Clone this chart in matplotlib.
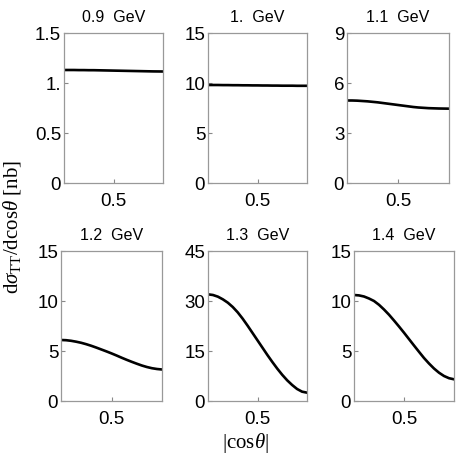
import numpy as np
import matplotlib
matplotlib.use('Agg')
import matplotlib.pyplot as plt

plt.rcParams['font.family'] = ['Liberation Sans', 'DejaVu Sans']
plt.rcParams['mathtext.fontset'] = 'custom'
plt.rcParams['mathtext.rm'] = 'Liberation Serif'
plt.rcParams['mathtext.it'] = 'Liberation Serif:italic'

# |cos theta| sample points
x = [0.0, 0.05, 0.1, 0.15, 0.2, 0.25, 0.3, 0.35, 0.4, 0.45, 0.5,
     0.55, 0.6, 0.65, 0.7, 0.75, 0.8, 0.85, 0.9, 0.95, 1.0]

titles = ['0.9  GeV', '1.  GeV', '1.1  GeV', '1.2  GeV', '1.3  GeV', '1.4  GeV']

y09 = [1.130, 1.130, 1.130, 1.129, 1.129, 1.128, 1.128, 1.127, 1.126, 1.125, 1.124,
       1.123, 1.122, 1.121, 1.120, 1.119, 1.118, 1.117, 1.116, 1.1155, 1.115]
y10 = [9.80, 9.80, 9.80, 9.79, 9.79, 9.78, 9.78, 9.77, 9.77, 9.76, 9.76,
       9.75, 9.75, 9.74, 9.74, 9.73, 9.73, 9.73, 9.72, 9.72, 9.72]
y11 = [4.95, 4.95, 4.94, 4.92, 4.90, 4.87, 4.84, 4.80, 4.76, 4.72, 4.68,
       4.64, 4.60, 4.56, 4.53, 4.51, 4.49, 4.48, 4.47, 4.465, 4.46]
y12 = [6.10, 6.08, 6.02, 5.93, 5.82, 5.68, 5.52, 5.34, 5.15, 4.96, 4.76,
       4.55, 4.33, 4.12, 3.92, 3.73, 3.55, 3.40, 3.28, 3.20, 3.15]
y13 = [32.0, 31.8, 31.3, 30.5, 29.5, 28.2, 26.6, 24.7, 22.6, 20.4, 18.2,
       16.0, 13.8, 11.7, 9.7, 7.85, 6.2, 4.8, 3.6, 2.8, 2.5]
y14 = [10.6, 10.56, 10.45, 10.25, 10.0, 9.62, 9.15, 8.63, 8.05, 7.45, 6.83,
       6.19, 5.55, 4.92, 4.3, 3.75, 3.25, 2.83, 2.5, 2.28, 2.17]
curves = [y09, y10, y11, y12, y13, y14]

yticks = [[0, 0.5, 1.0, 1.5], [0, 5, 10, 15], [0, 3, 6, 9],
          [0, 5, 10, 15], [0, 15, 30, 45], [0, 5, 10, 15]]
yticklabels = [['0', '0.5', '1.', '1.5'], ['0', '5', '10', '15'], ['0', '3', '6', '9'],
               ['0', '5', '10', '15'], ['0', '15', '30', '45'], ['0', '5', '10', '15']]

W, H = 463, 455
fig = plt.figure(figsize=(W / 100, H / 100), dpi=100)

# panel boxes in pixels: left, right, top, bottom
boxes = [(64, 163, 33, 183), (208, 307, 33, 183), (347, 449, 33, 183),
         (61, 162, 251, 401), (208, 307, 251, 401), (354, 454, 251, 401)]

for i, (l, r, t, b) in enumerate(boxes):
    ax = fig.add_axes([l / W, 1 - b / H, (r - l) / W, (b - t) / H])
    ax.plot(x, curves[i], color='black', lw=1.9)
    ax.set_xlim(0, 1)
    ax.set_ylim(yticks[i][0], yticks[i][-1])
    ax.set_xticks([0.5])
    ax.set_xticklabels(['0.5'])
    ax.set_yticks(yticks[i])
    ax.set_yticklabels(yticklabels[i])
    ax.tick_params(direction='in', length=3, width=0.8, color='#888888',
                   labelsize=13.5, pad=2)
    ax.tick_params(axis='x', pad=7)
    for s in ax.spines.values():
        s.set_color('#999999')
        s.set_linewidth(0.9)
    ax.set_title(titles[i], fontsize=11.5, pad=8)

fig.text(12 / W, 0.5, r'd$\sigma_{\rm TT}$/dcos$\theta$ [nb]', rotation=90,
         ha='center', va='center', fontsize=15, family='Liberation Serif')
fig.text(245 / W, 1 - 443 / H, r'|cos$\theta$|', ha='center', va='center',
         fontsize=15, family='Liberation Serif')

fig.savefig('out.png', dpi=100)
